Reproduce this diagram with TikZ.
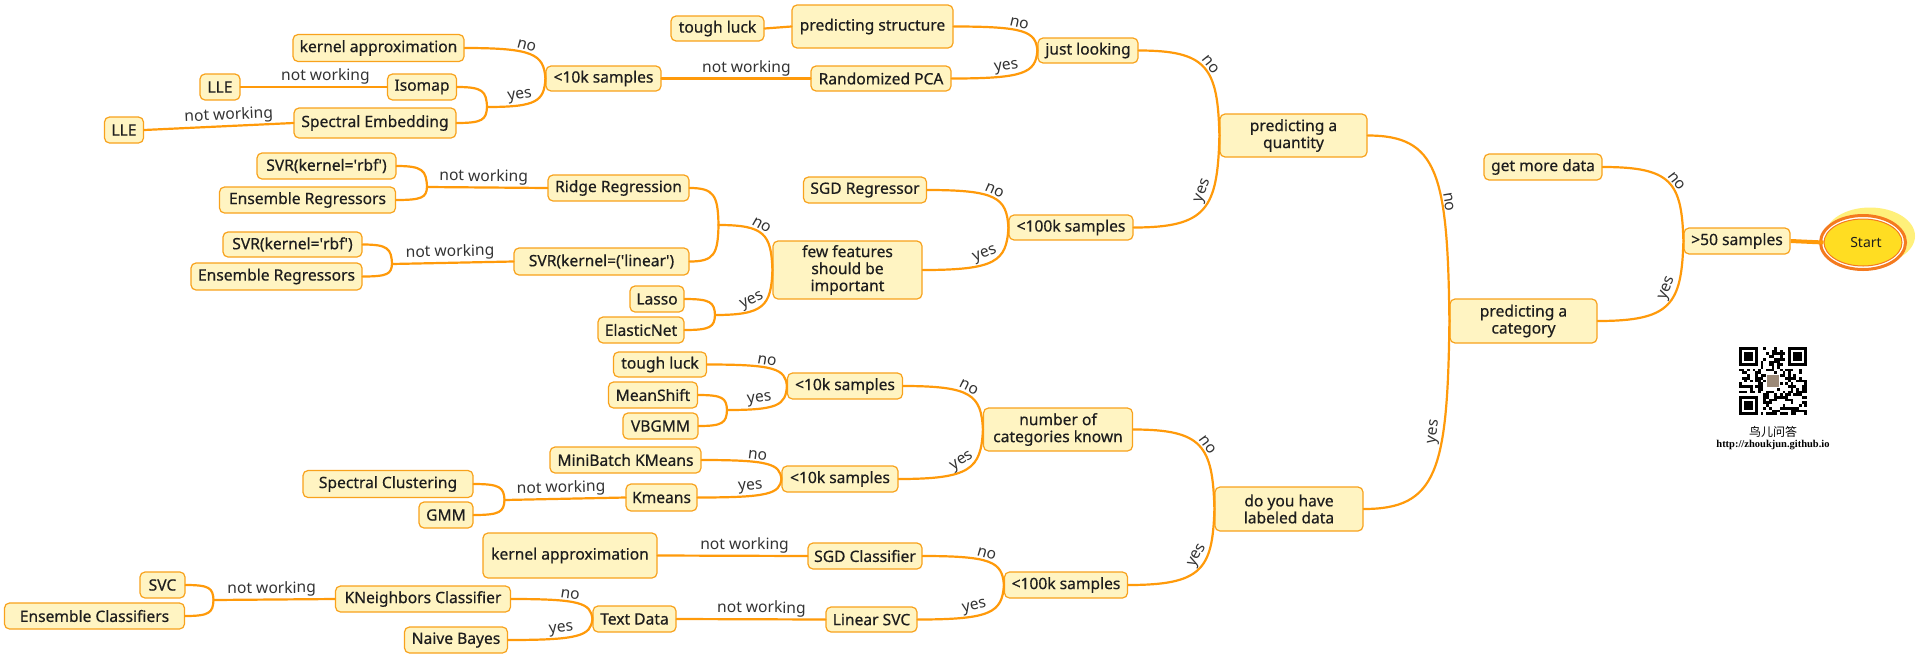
\documentclass[tikz,border=0pt]{standalone}
\usepackage{fontspec}
\setmainfont{Noto Sans}
\newfontfamily\nodefont[FakeBold=0.5]{Noto Sans}
\newfontfamily\cjkfont{Noto Sans CJK SC}
\newfontfamily\serifb{Liberation Serif}
\usetikzlibrary{shapes.geometric,calc}
\definecolor{boxfill}{HTML}{FFF4C2}
\definecolor{boxline}{HTML}{F8A21C}
\definecolor{conncol}{HTML}{FF9A0A}
\definecolor{txt}{HTML}{1E1E1E}
\definecolor{labtxt}{HTML}{333333}
\definecolor{startfill}{HTML}{FFDD22}
\definecolor{startring}{HTML}{F47A1F}
\definecolor{glowcol}{HTML}{FFF07A}
\definecolor{photo}{HTML}{9C8A78}
\tikzset{
  box/.style={draw=boxline, fill=boxfill, rounded corners=5pt, line width=1.2pt,
    inner sep=0pt, align=center, text=txt, font=\nodefont\fontsize{15.6}{17}\selectfont},
  conn/.style={draw=conncol, line width=2.2pt, line cap=round},
  lab/.style={font=\fontsize{15.6}{17}\selectfont, text=labtxt, inner sep=1.5pt, sloped, above},
  startnode/.style={ellipse, draw=startring, line width=1pt, fill=startfill, inner sep=0pt,
    text=txt, font=\bfseries\fontsize{14}{16}\selectfont},
}
\newcommand\bx[6]{\node[box,minimum width=#4pt,minimum height=#5pt] (#1) at (#2,-#3) {#6};}
% curved connector from child point #1 to parent point #2, extra path items #3
\newcommand\lk[3]{\draw[conn] let \p1=(#1), \p2=(#2) in (\p1) .. controls ({\x1+0.85*(\x2-\x1)},\y1) and ({\x2-0.02*(\x2-\x1)},{\y2-0.8*(\y2-\y1)}) .. (\p2) #3;}
% straight connector
\newcommand\sk[3]{\draw[conn] (#1) -- (#2) #3;}
\newcommand\q{\textquotesingle}
\begin{document}
\begin{tikzpicture}[x=1pt,y=1pt]
\useasboundingbox (0,0) rectangle (1920,-665);
\fill[white] (0,0) rectangle (1920,-665);

% ---- start node
\fill[glowcol] (1870,-236) ellipse [x radius=45, y radius=28.5];
\draw[startring, line width=3pt, fill=white] (1863,-242.5) ellipse [x radius=42.5, y radius=27];
\node[startnode, minimum width=78pt, minimum height=47pt] (start) at (1863,-242.5) {\hspace*{6pt}Start};

% ---- nodes
\bx{ka1}{378.5}{48}{171}{27}{kernel approximation}
\bx{lleA}{220}{87}{40}{26}{LLE}
\bx{isomap}{422}{87}{69}{26}{Isomap}
\bx{lleB}{124}{130}{39}{26}{LLE}
\bx{spemb}{375}{123}{162}{30}{Spectral Embedding}
\bx{sA}{603.5}{78.5}{115}{25}{<10k samples}
\bx{tlA}{717.5}{28.5}{93}{25}{tough luck}
\bx{pstruct}{872.5}{26.5}{161}{43}{predicting structure}
\bx{jl}{1088}{50.5}{100}{25}{just looking}
\bx{rpca}{881}{78.5}{140}{25}{Randomized PCA}
\bx{pq}{1293.5}{135.5}{147}{43}{predicting a\\quantity}
\bx{gmd}{1543}{167}{118}{26}{get more data}
\bx{sfifty}{1737}{241}{106}{26}{>50 samples}
\bx{pc}{1523.5}{321}{147}{44}{predicting a\\category}
\bx{svrA}{326.5}{166}{139}{26}{SVR(kernel=\q rbf\q)}
\bx{ensA}{307.5}{200}{176}{26}{Ensemble Regressors}
\bx{ridge}{618.5}{188}{141}{26}{Ridge Regression}
\bx{svrB}{292.5}{244.5}{139}{25}{SVR(kernel=\q rbf\q)}
\bx{ensB}{276.5}{276.5}{171}{27}{Ensemble Regressors}
\bx{svrlin}{601.5}{261.5}{175}{27}{SVR(kernel=(\q linear\q)}
\bx{lasso}{657}{299}{54}{26}{Lasso}
\bx{enet}{641}{330}{86}{26}{ElasticNet}
\bx{sgdr}{865}{190}{123}{26}{SGD Regressor}
\bx{shA}{1071}{227.5}{124}{25}{<100k samples}
\bx{few}{847.5}{270}{149}{58}{few features\\should be\\important}
\bx{tlB}{660}{364.5}{93}{25}{tough luck}
\bx{sB}{845}{386}{115}{26}{<10k samples}
\bx{meanshift}{653}{395}{89}{26}{MeanShift}
\bx{vbgmm}{660.5}{426}{75}{26}{VBGMM}
\bx{ncat}{1058}{429.5}{149}{43}{number of\\categories known}
\bx{mbk}{625.5}{460}{151}{26}{MiniBatch KMeans}
\bx{sC}{840}{479}{116}{26}{<10k samples}
\bx{kmeans}{661.5}{497.5}{71}{27}{Kmeans}
\bx{dyh}{1289}{509}{148}{44}{do you have\\labeled data}
\bx{specclu}{388}{484}{170}{27}{Spectral Clustering}
\bx{gmm}{446}{515}{54}{26}{GMM}
\bx{kaB}{570}{555.5}{174}{45}{kernel approximation}
\bx{sgdc}{865}{556}{114}{26}{SGD Classifier}
\bx{svc}{162.5}{585}{45}{26}{SVC}
\bx{ensc}{94.5}{616}{180}{26}{Ensemble Classifiers}
\bx{knn}{423}{599}{175}{26}{KNeighbors Classifier}
\bx{textdata}{634.5}{619}{83}{26}{Text Data}
\bx{nb}{456}{640}{103}{26}{Naive Bayes}
\bx{lsvc}{871.5}{619.5}{91}{25}{Linear SVC}
\bx{shB}{1066}{585}{123}{26}{<100k samples}

% ---- junctions
\coordinate (jIso) at (487,-107);
\coordinate (jRidge) at (718.5,-225);
\coordinate (jLasso) at (715,-315);
\coordinate (jSvrA) at (427,-187);
\coordinate (jSvrB) at (392,-264);
\coordinate (jMS) at (727,-410);
\coordinate (jSC) at (504.5,-500);
\coordinate (jSVC) at (213.5,-600);

% ---- connectors
\draw[conn, line width=4pt, line cap=butt] (sfifty.east) -- (start.west);
\lk{gmd.east}{sfifty.west}{node[lab,pos=0.55]{no}}
\lk{pc.east}{sfifty.west}{node[lab,pos=0.65]{yes}}
\lk{pq.east}{pc.west}{node[lab,pos=0.65]{no}}
\lk{dyh.east}{pc.west}{node[lab,pos=0.68]{yes}}

\lk{jl.east}{pq.west}{node[lab,pos=0.52]{no}}
\lk{shA.east}{pq.west}{node[lab,pos=0.65]{yes}}
\lk{pstruct.east}{jl.west}{node[lab,pos=0.45]{no}}
\lk{rpca.east}{jl.west}{node[lab,pos=0.35]{yes}}
\sk{tlA.east}{pstruct.west}{}
\sk{sA.east}{rpca.west}{node[lab,pos=0.57]{not working}}
\lk{ka1.east}{sA.west}{node[lab,pos=0.43]{no}}
\lk{jIso}{sA.west}{node[lab,pos=0.3]{yes}}
\lk{isomap.east}{jIso}{}
\lk{spemb.east}{jIso}{}
\sk{lleA.east}{isomap.west}{node[lab,pos=0.58]{not working}}
\sk{lleB.east}{spemb.west}{node[lab,pos=0.57]{not working}}

\lk{sgdr.east}{shA.west}{node[lab,pos=0.48]{no}}
\lk{few.east}{shA.west}{node[lab,pos=0.45]{yes}}
\lk{jRidge}{few.west}{node[lab,pos=0.42]{no}}
\lk{jLasso}{few.west}{node[lab,pos=0.4]{yes}}
\lk{ridge.east}{jRidge}{}
\lk{svrlin.east}{jRidge}{}
\lk{lasso.east}{jLasso}{}
\lk{enet.east}{jLasso}{}
\sk{jSvrA}{ridge.west}{node[lab,pos=0.47]{not working}}
\lk{svrA.east}{jSvrA}{}
\lk{ensA.east}{jSvrA}{}
\sk{jSvrB}{svrlin.west}{node[lab,pos=0.48]{not working}}
\lk{svrB.east}{jSvrB}{}
\lk{ensB.east}{jSvrB}{}

\lk{ncat.east}{dyh.west}{node[lab,pos=0.55]{no}}
\lk{shB.east}{dyh.west}{node[lab,pos=0.62]{yes}}
\lk{sB.east}{ncat.west}{node[lab,pos=0.47]{no}}
\lk{sC.east}{ncat.west}{node[lab,pos=0.5]{yes}}
\lk{tlB.east}{sB.west}{node[lab,pos=0.42]{no}}
\lk{jMS}{sB.west}{node[lab,pos=0.28]{yes}}
\lk{meanshift.east}{jMS}{}
\lk{vbgmm.east}{jMS}{}
\lk{mbk.east}{sC.west}{node[lab,pos=0.38]{no}}
\lk{kmeans.east}{sC.west}{node[lab,pos=0.34]{yes}}
\sk{jSC}{kmeans.west}{node[lab,pos=0.47]{not working}}
\lk{specclu.east}{jSC}{}
\lk{gmm.east}{jSC}{}

\lk{sgdc.east}{shB.west}{node[lab,pos=0.45]{no}}
\lk{lsvc.east}{shB.west}{node[lab,pos=0.37]{yes}}
\sk{kaB.east}{sgdc.west}{node[lab,pos=0.58]{not working}}
\sk{textdata.east}{lsvc.west}{node[lab,pos=0.57]{not working}}
\lk{knn.east}{textdata.west}{node[lab,pos=0.4]{no}}
\lk{nb.east}{textdata.west}{node[lab,pos=0.34]{yes}}
\sk{jSVC}{knn.west}{node[lab,pos=0.48]{not working}}
\lk{svc.east}{jSVC}{}
\lk{ensc.east}{jSVC}{}

% ---- QR code
\begin{scope}[shift={(1739,-347)}, x=2.72pt, y=-2.72pt]
  \pgfmathsetseed{4711}
  \foreach \i in {0,...,24}{
    \foreach \j in {0,...,24}{
      \pgfmathparse{(rnd<0.5)&&!((\i<8&&\j<8)||(\i>16&&\j<8)||(\i<8&&\j>16))}
      \ifdim\pgfmathresult pt>0.5pt \fill[black] (\i,\j) rectangle ++(1,1);\fi
    }}
  \foreach \a/\b in {0/0,18/0,0/18}{
    \fill[black] (\a,\b) rectangle ++(7,7);
    \fill[white] (\a+1,\b+1) rectangle ++(5,5);
    \fill[black] (\a+2,\b+2) rectangle ++(3,3);
  }
  \fill[white] (9.8,9.8) rectangle (15.2,15.2);
  \fill[photo] (10.2,10.2) rectangle (14.8,14.8);
\end{scope}
\node[font=\cjkfont\fontsize{12}{13}\selectfont, inner sep=0pt] (qrcn) at (1773,-432) {鸟儿问答};
\node[font=\serifb\bfseries\fontsize{10.5}{12}\selectfont, inner sep=0pt] (qrurl) at (1773,-445) {http://zhoukjun.github.io};
\end{tikzpicture}
\end{document}
